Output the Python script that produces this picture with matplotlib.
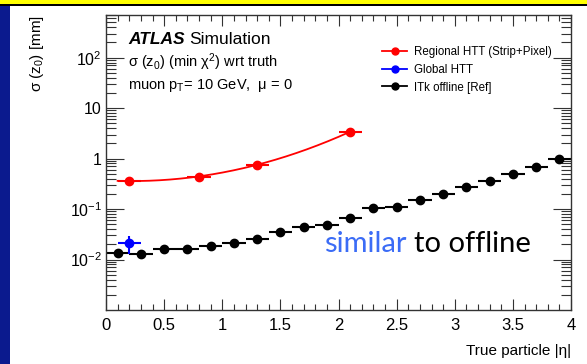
import numpy as np
import matplotlib
matplotlib.use('Agg')
import matplotlib.pyplot as plt
from matplotlib.lines import Line2D
from matplotlib.patches import Rectangle
from matplotlib.ticker import LogLocator, MultipleLocator, NullFormatter

plt.rcParams['font.family'] = ['Liberation Sans', 'DejaVu Sans']
plt.rcParams['mathtext.fontset'] = 'custom'
plt.rcParams['mathtext.rm'] = 'Liberation Sans'
plt.rcParams['mathtext.it'] = 'Liberation Sans:italic'

# ITk offline [Ref]
eta_ref = [0.1, 0.3, 0.5, 0.7, 0.9, 1.1, 1.3, 1.5, 1.7, 1.9,
           2.1, 2.3, 2.5, 2.7, 2.9, 3.1, 3.3, 3.5, 3.7, 3.9]
sig_ref = [0.0132, 0.0130, 0.0159, 0.0160, 0.0188, 0.0209, 0.0254, 0.0349, 0.0438, 0.0488,
           0.068, 0.107, 0.110, 0.152, 0.203, 0.275, 0.367, 0.497, 0.693, 0.966]

# Regional HTT (Strip+Pixel)
eta_reg = [0.2, 0.8, 1.3, 2.1]
sig_reg = [0.36, 0.44, 0.76, 3.4]

# Global HTT
eta_glob = [0.2]
sig_glob = [0.0211]
err_glob = [0.008]

W, H = 587, 364
fig = plt.figure(figsize=(W / 100, H / 100), dpi=100)

# slide frame
fig.patches.append(Rectangle((0, 0), 10 / W, 1, transform=fig.transFigure,
                             facecolor='#0b1a8e', edgecolor='none', zorder=0))
fig.patches.append(Rectangle((0, 1 - 4 / H), 1, 4 / H, transform=fig.transFigure,
                             facecolor='#ffff00', edgecolor='none', zorder=0))
fig.patches.append(Rectangle((0, 1 - 5.5 / H), 1, 1.5 / H, transform=fig.transFigure,
                             facecolor='black', edgecolor='none', zorder=0))

ax = fig.add_axes([106 / W, 1 - 310 / H, (571 - 106) / W, (310 - 15) / H])
ax.set_yscale('log')
ax.set_xlim(0, 4)
ax.set_ylim(1e-3, 700)

ax.errorbar(eta_ref, sig_ref, xerr=0.1, fmt='o', color='black', ms=6,
            elinewidth=1.5, capsize=0)
ax.errorbar(eta_glob, sig_glob, xerr=0.1, yerr=err_glob, fmt='o', color='#0000ff', ms=6,
            elinewidth=1.5, capsize=0)
ax.errorbar(eta_reg, sig_reg, xerr=0.1, fmt='o', color='#ff0000', ms=6,
            elinewidth=1.5, capsize=0)

# fit curve for regional HTT
coef = np.polyfit(eta_reg, np.log10(sig_reg), 2)
xf = np.linspace(0.1, 2.1, 200)
ax.plot(xf, 10 ** np.polyval(coef, xf), color='#ff0000', lw=1.3)

# ticks ROOT style
ax.xaxis.set_minor_locator(MultipleLocator(0.1))
ax.set_xticks([0, 0.5, 1, 1.5, 2, 2.5, 3, 3.5, 4])
ax.set_xticklabels(['0', '0.5', '1', '1.5', '2', '2.5', '3', '3.5', '4'])
ax.set_yticks([1e-2, 1e-1, 1, 10, 100])
ax.set_yticklabels(['$10^{-2}$', '$10^{-1}$', '1', '10', '$10^{2}$'])
ax.yaxis.set_minor_locator(LogLocator(base=10, subs=np.arange(2, 10), numticks=20))
ax.yaxis.set_minor_formatter(NullFormatter())
ax.tick_params(axis='both', which='both', direction='in', top=True, right=True,
               width=0.8, color='#333333')
ax.tick_params(axis='x', which='major', length=8, pad=6, labelsize=12)
ax.tick_params(axis='x', which='minor', length=4)
ax.tick_params(axis='y', which='major', length=13, pad=3, labelsize=11.5)
ax.tick_params(axis='y', which='minor', length=7)
for s in ax.spines.values():
    s.set_linewidth(1.0)
    s.set_color('#333333')

# legend
handles = [
    Line2D([], [], color='#ff0000', marker='o', ms=5, lw=1.3),
    Line2D([], [], color='#0000ff', marker='o', ms=5, lw=1.3),
    Line2D([], [], color='black', marker='o', ms=5, lw=1.3),
]
labels = ['Regional HTT (Strip+Pixel)', 'Global HTT', 'ITk offline [Ref]']
ax.legend(handles, labels, loc='upper left', bbox_to_anchor=(382 / W, 1 - 46 / H),
          bbox_transform=fig.transFigure, frameon=False, fontsize=8.3,
          handlelength=2.2, handletextpad=0.6, labelspacing=0.5,
          borderpad=0, borderaxespad=0)

# labels
ta = fig.text(128 / W, 1 - 40 / H, 'ATLAS', fontsize=12.5, fontweight='bold',
              fontstyle='italic', ha='left', va='center')
fig.text(128 / W, 1 - 62 / H, 'σ (z$_0$) (min χ$^2$) wrt truth', fontsize=10.5,
         ha='left', va='center')
fig.text(128 / W, 1 - 85 / H, 'muon p$_{\\rm T}$= 10 GeV,  μ = 0', fontsize=10.5,
         ha='left', va='center')
fig.text(37 / W, 1 - 15 / H, 'σ (z$_0$) [mm]', fontsize=11, rotation=90,
         ha='center', va='top')
fig.text(571 / W, 1 - 351 / H, 'True particle |η|', fontsize=11, ha='right', va='center')

t1 = fig.text(324 / W, 1 - 252 / H, 'similar', fontsize=21, color='#3b6cf6',
              family='Lato', ha='left', va='baseline')
fig.canvas.draw()
bb = t1.get_window_extent()
fig.text((bb.x1 + 7) / W, 1 - 252 / H, 'to offline', fontsize=21, color='black',
         family='Lato', ha='left', va='baseline')
ba = ta.get_window_extent()
fig.text((ba.x1 + 5) / W, 1 - 40 / H, 'Simulation', fontsize=12.5, ha='left', va='center')

fig.savefig('out.png', dpi=100)
